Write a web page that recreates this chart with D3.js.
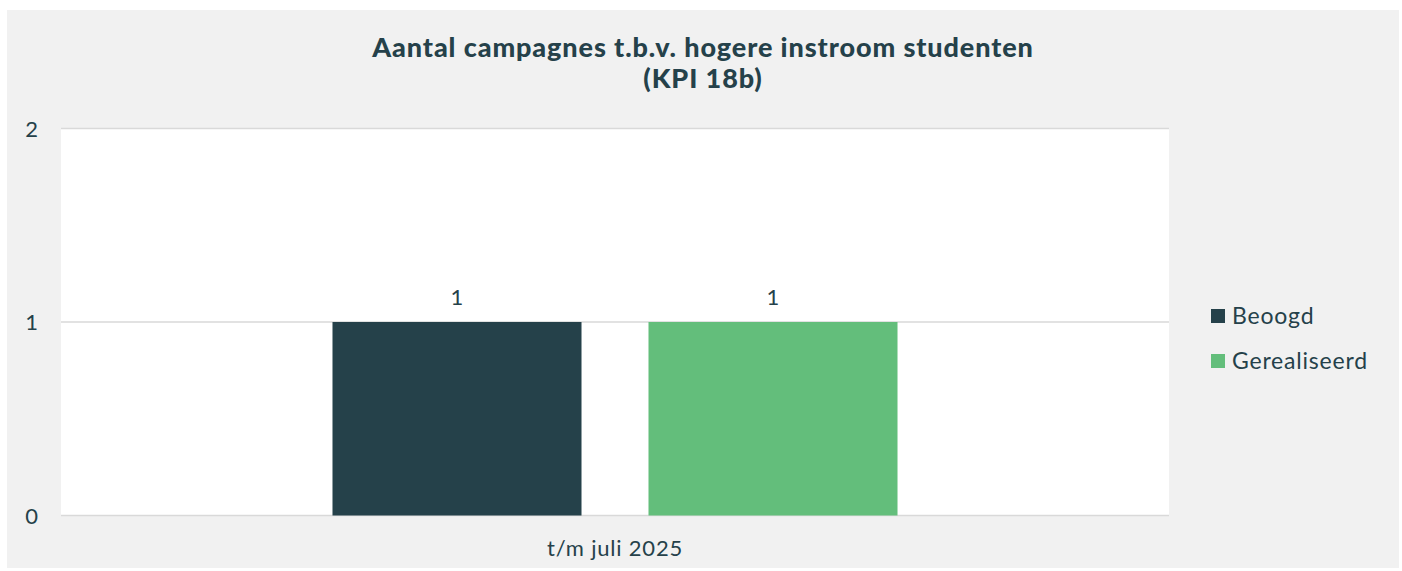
<!DOCTYPE html>
<html>
<head>
<meta charset="utf-8">
<script src="https://cdn.jsdelivr.net/npm/d3@7"></script>
<style>
  body { margin: 0; background: #fff; font-family: Lato, "Open Sans", sans-serif; }
  svg text { fill: #25414a; }
</style>
</head>
<body>
<svg id="chart"></svg>
<script>
const categories = ['t/m juli 2025'];
const seriesNames = ['Beoogd', 'Gerealiseerd'];
const beoogd = [1];
const gerealiseerd = [1];
const yTicks = [0, 1, 2];
const titleLines = ['Aantal campagnes t.b.v. hogere instroom studenten', '(KPI 18b)'];

const W = 1402, H = 571;
const colors = { Beoogd: '#25414a', Gerealiseerd: '#63be7b' };

const svg = d3.select('#chart').attr('width', W).attr('height', H);

// outer grey panel
svg.append('rect')
    .attr('x', 7).attr('y', 10)
    .attr('width', 1392).attr('height', 558)
    .attr('fill', '#f1f1f1');

const plot = { left: 61, right: 1169, top: 128.5, bottom: 515.5 };

// white plot area
svg.append('rect')
    .attr('x', plot.left).attr('y', plot.top)
    .attr('width', plot.right - plot.left).attr('height', plot.bottom - plot.top)
    .attr('fill', '#ffffff');

const data = categories.map((c, i) => ({
    category: c,
    values: [
        { key: 'Beoogd', value: beoogd[i] },
        { key: 'Gerealiseerd', value: gerealiseerd[i] }
    ]
}));

const x0 = d3.scaleBand()
    .domain(categories)
    .range([plot.left, plot.right])
    .paddingInner(0)
    .paddingOuter(0.4805);

const x1 = d3.scaleBand()
    .domain(seriesNames)
    .range([0, x0.bandwidth()])
    .paddingInner(0.212)
    .paddingOuter(0);

const y = d3.scaleLinear()
    .domain([0, 2])
    .range([plot.bottom, plot.top]);

// gridlines
svg.append('g')
    .selectAll('line')
    .data(yTicks)
    .join('line')
    .attr('x1', plot.left)
    .attr('x2', plot.right)
    .attr('y1', d => y(d))
    .attr('y2', d => y(d))
    .attr('stroke', '#d9d9d9')
    .attr('stroke-width', 1.5);

// y axis labels
const yAxis = d3.axisLeft(y).tickValues(yTicks).tickSize(0).tickPadding(0).tickFormat(d3.format('d'));
const yg = svg.append('g')
    .attr('transform', `translate(38,0)`)
    .call(yAxis);
yg.select('.domain').remove();
yg.selectAll('text')
    .attr('font-family', 'Lato, sans-serif')
    .attr('font-size', 22)
    .attr('fill', '#25414a')
    .attr('dy', '0.35em');

// bars
const groups = svg.append('g')
    .selectAll('g')
    .data(data)
    .join('g')
    .attr('transform', d => `translate(${x0(d.category)},0)`);

groups.selectAll('rect')
    .data(d => d.values)
    .join('rect')
    .attr('x', d => x1(d.key))
    .attr('y', d => y(d.value))
    .attr('width', x1.bandwidth())
    .attr('height', d => y(0) - y(d.value))
    .attr('fill', d => colors[d.key]);

// data labels
groups.selectAll('text.val')
    .data(d => d.values)
    .join('text')
    .attr('class', 'val')
    .attr('x', d => x1(d.key) + x1.bandwidth() / 2)
    .attr('y', d => y(d.value) - 17)
    .attr('text-anchor', 'middle')
    .attr('font-size', 22)
    .text(d => d.value);

// x axis labels
const xAxis = d3.axisBottom(x0).tickSize(0).tickPadding(0);
const xg = svg.append('g')
    .attr('transform', `translate(0,${plot.bottom})`)
    .call(xAxis);
xg.select('.domain').remove();
xg.selectAll('text')
    .attr('font-family', 'Lato, sans-serif')
    .attr('font-size', 22)
    .attr('letter-spacing', 0.8)
    .attr('fill', '#25414a')
    .attr('dy', 0)
    .attr('y', 40);

// title
const title = svg.append('text')
    .attr('x', 703)
    .attr('text-anchor', 'middle')
    .attr('font-size', 27)
    .attr('font-weight', 900)
    .attr('letter-spacing', 0.9);
title.selectAll('tspan')
    .data(titleLines)
    .join('tspan')
    .attr('x', 703)
    .attr('y', (d, i) => 57 + i * 31)
    .text(d => d);

// legend
const legend = svg.append('g')
    .attr('transform', 'translate(1211,309)');
const items = legend.selectAll('g')
    .data(seriesNames)
    .join('g')
    .attr('transform', (d, i) => `translate(0,${i * 45})`);
items.append('rect')
    .attr('width', 14)
    .attr('height', 14)
    .attr('fill', d => colors[d]);
items.append('text')
    .attr('x', 21)
    .attr('y', 15)
    .attr('font-size', 23)
    .attr('letter-spacing', 0.8)
    .text(d => d);
</script>
</body>
</html>
